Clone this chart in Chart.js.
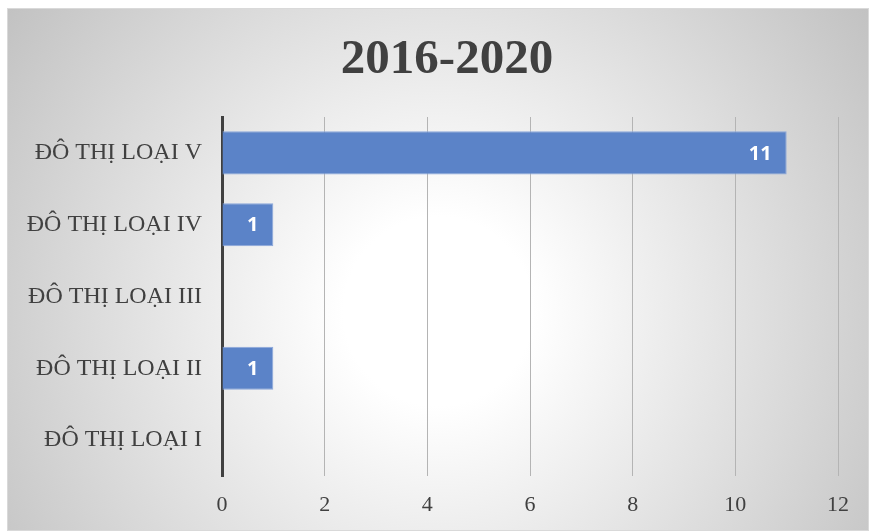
<!DOCTYPE html>
<html>
<head>
<meta charset="utf-8">
<script src="https://cdn.jsdelivr.net/npm/chart.js@4/dist/chart.umd.min.js"></script>
<style>
  html, body { margin: 0; padding: 0; background: #ffffff; }
  #box {
    position: absolute; left: 7px; top: 8px; width: 862px; height: 523px;
    box-sizing: border-box; border: 1px solid #d9d9d9;
    background: radial-gradient(circle farthest-corner at 50% 58%, #ffffff 18%, #c2c2c2 100%);
  }
  #box canvas { display: block; }
</style>
</head>
<body>
<div id="box"><canvas id="c" width="860" height="521"></canvas></div>
<script>
const chartTitle = '2016-2020';
const categories = ['ĐÔ THỊ LOẠI V', 'ĐÔ THỊ LOẠI IV', 'ĐÔ THỊ LOẠI III', 'ĐÔ THỊ LOẠI II', 'ĐÔ THỊ LOẠI I'];
const values = [11, 1, 0, 1, 0];
const xTicks = [0, 2, 4, 6, 8, 10, 12];

const titleDraw = {
  id: 'titleDraw',
  afterDraw(chart) {
    const ctx = chart.ctx;
    ctx.save();
    ctx.font = 'bold 49px "Liberation Serif", "Times New Roman", serif';
    ctx.fillStyle = '#404040';
    ctx.textAlign = 'center';
    ctx.textBaseline = 'alphabetic';
    ctx.fillText(chartTitle, 439, 64);
    ctx.restore();
  }
};

const barLabels = {
  id: 'barLabels',
  afterDatasetsDraw(chart) {
    const ctx = chart.ctx;
    const meta = chart.getDatasetMeta(0);
    ctx.save();
    ctx.font = 'bold 20px "Open Sans", sans-serif';
    ctx.fillStyle = '#ffffff';
    ctx.textAlign = 'right';
    ctx.textBaseline = 'middle';
    meta.data.forEach((el, i) => {
      const v = values[i];
      if (!v) return;
      ctx.fillText(String(v), el.x - 15, el.y + 1);
    });
    ctx.restore();
  }
};

new Chart(document.getElementById('c'), {
  type: 'bar',
  data: {
    labels: categories,
    datasets: [{
      data: values,
      backgroundColor: '#5b83c8',
      borderColor: '#8aa6da',
      borderWidth: (c) => (c.raw ? 1 : 0),
      borderSkipped: 'start',
      barPercentage: 0.6,
      categoryPercentage: 1.0
    }]
  },
  options: {
    indexAxis: 'y',
    responsive: false,
    animation: false,
    layout: { padding: { left: 0, right: 30, top: 108, bottom: 0 } },
    plugins: {
      legend: { display: false },
      tooltip: { enabled: false },
      title: { display: false }
    },
    scales: {
      x: {
        type: 'linear',
        min: 0, max: 12,
        afterBuildTicks: (s) => { s.ticks = xTicks.map(v => ({ value: v })); },
        grid: {
          color: (c) => (c.tick && c.tick.value === 0 ? 'rgba(0,0,0,0)' : '#b4b4b4'),
          lineWidth: 1,
          drawTicks: false
        },
        border: { display: false },
        ticks: {
          color: '#404040',
          padding: 16,
          font: { family: '"Liberation Serif", "Times New Roman", serif', size: 22 }
        },
        afterFit: (s) => { s.height = 54; }
      },
      y: {
        grid: { display: false, drawTicks: false },
        border: { display: true, color: '#404040', width: 3 },
        ticks: {
          color: '#404040',
          padding: 20,
          font: { family: '"Liberation Serif", "Times New Roman", serif', size: 24 }
        },
        afterFit: (s) => { s.width = 214; }
      }
    }
  },
  plugins: [barLabels, titleDraw]
});
</script>
</body>
</html>
